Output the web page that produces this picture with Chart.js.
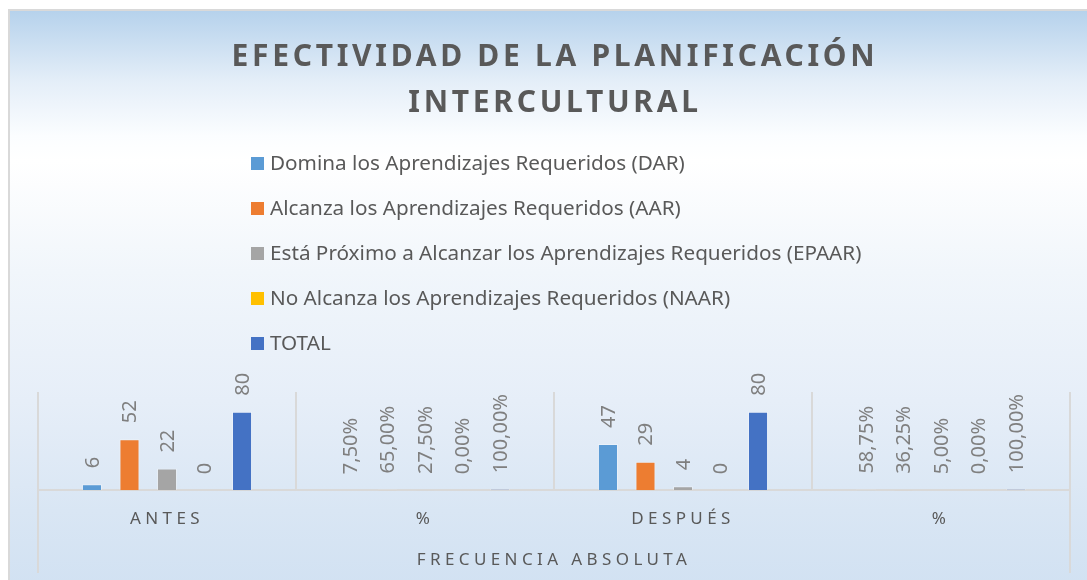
<!DOCTYPE html>
<html>
<head>
<meta charset="utf-8">
<script src="https://cdn.jsdelivr.net/npm/chart.js@4.4.1/dist/chart.umd.min.js"></script>
<style>
  html, body { margin: 0; padding: 0; background: #fff; }
  #wrap { position: relative; width: 1087px; height: 580px; overflow: hidden; }
  #frame {
    position: absolute; left: 8px; top: 9px; width: 1100px; height: 600px;
    border: 2px solid #d9d9d9;
    background: linear-gradient(to bottom, #b6d2ec 0px, #e4eef8 70px, #fbfdff 125px, #ffffff 150px, #f1f6fb 260px, #e6eef8 390px, #d9e6f4 500px, #d1e1f2 580px);
  }
  #chart { position: absolute; left: 0; top: 0; }
</style>
</head>
<body>
<div id="wrap">
  <div id="frame"></div>
  <canvas id="chart" width="1087" height="580"></canvas>
</div>
<script>
// categories on the x axis (outer group label is the axis title)
const categories = ['ANTES', '%', 'DESPUÉS', '%'];
const groupLabel = 'FRECUENCIA ABSOLUTA';
const titleLines = ['EFECTIVIDAD DE LA PLANIFICACIÓN', 'INTERCULTURAL'];

const seriesNames = [
  'Domina los Aprendizajes Requeridos (DAR)',
  'Alcanza los Aprendizajes Requeridos (AAR)',
  'Está Próximo a Alcanzar los Aprendizajes Requeridos (EPAAR)',
  'No Alcanza los Aprendizajes Requeridos (NAAR)',
  'TOTAL'
];
const dar   = [6, 0.075, 47, 0.5875];
const aar   = [52, 0.65, 29, 0.3625];
const epaar = [22, 0.275, 4, 0.05];
const naar  = [0, 0, 0, 0];
const total = [80, 1, 80, 1];
const colors = ['#5B9BD5', '#ED7D31', '#A5A5A5', '#FFC000', '#4472C4'];

const FONT = '"Noto Sans", "Open Sans", sans-serif';

function fmt(v, cat) {
  if (cat === '%') return (v * 100).toFixed(2).replace('.', ',') + '%';
  return String(v);
}

const seriesData = [dar, aar, epaar, naar, total];
const datasets = seriesData.map(function (d, i) {
  return {
    label: seriesNames[i],
    data: d,
    backgroundColor: colors[i],
    borderColor: 'rgba(255,255,255,0.35)',
    borderWidth: 1,
    categoryPercentage: 0.727,
    barPercentage: 0.535
  };
});

// letter spacing for the axis texts
const spacing = {
  id: 'spacing',
  beforeDraw: function (chart) { chart.ctx.letterSpacing = '4.4px'; },
  beforeDatasetsDraw: function (chart) { chart.ctx.letterSpacing = '0px'; }
};

// title, legend, extended outer lines
const decor = {
  id: 'decor',
  afterDraw: function (chart) {
    const ctx = chart.ctx;
    const area = chart.chartArea;
    ctx.save();
    ctx.letterSpacing = '3.7px';
    ctx.fillStyle = '#595959';
    ctx.font = 'bold 30px ' + FONT;
    ctx.textAlign = 'center';
    ctx.textBaseline = 'middle';
    ctx.fillText(titleLines[0], 555, 57);
    ctx.fillText(titleLines[1], 555, 103);

    ctx.letterSpacing = '0px';
    ctx.textAlign = 'left';
    ctx.font = '20.7px ' + FONT;
    chart.data.datasets.forEach(function (ds, i) {
      const y = 164 + i * 45;
      ctx.fillStyle = ds.backgroundColor;
      ctx.fillRect(251, y - 7, 13, 13);
      ctx.fillStyle = '#595959';
      ctx.fillText(ds.label, 270, y);
    });

    ctx.strokeStyle = '#d9d9d9';
    ctx.lineWidth = 2;
    ctx.beginPath();
    ctx.moveTo(area.left, area.bottom);
    ctx.lineTo(area.left, 573);
    ctx.moveTo(area.right, area.bottom);
    ctx.lineTo(area.right, 573);
    ctx.stroke();
    ctx.restore();
  }
};

// rotated value labels above the bars
const valueLabels = {
  id: 'valueLabels',
  afterDatasetsDraw: function (chart) {
    const ctx = chart.ctx;
    ctx.save();
    ctx.letterSpacing = '0px';
    ctx.font = '20px ' + FONT;
    ctx.fillStyle = '#7f7f7f';
    ctx.textAlign = 'left';
    ctx.textBaseline = 'middle';
    chart.data.datasets.forEach(function (ds, di) {
      const meta = chart.getDatasetMeta(di);
      meta.data.forEach(function (bar, j) {
        const txt = fmt(ds.data[j], chart.data.labels[j]);
        ctx.save();
        ctx.translate(bar.x, bar.y - 16);
        ctx.rotate(-Math.PI / 2);
        ctx.fillText(txt, 0, 1);
        ctx.restore();
      });
    });
    ctx.restore();
  }
};

const ctx = document.getElementById('chart').getContext('2d');
const chart = new Chart(ctx, {
  type: 'bar',
  data: { labels: categories, datasets: datasets },
  options: {
    responsive: false,
    animation: false,
    layout: { padding: { top: 392, left: 38, right: 17, bottom: 0 } },
    plugins: { legend: { display: false }, title: { display: false }, tooltip: { enabled: false } },
    scales: {
      y: { display: false, min: 0, max: 100 },
      x: {
        grid: { color: '#d9d9d9', lineWidth: 2, drawTicks: false, offset: true },
        border: { color: '#d9d9d9', width: 2 },
        ticks: { color: '#595959', font: { family: FONT, size: 17 }, padding: 19 },
        title: {
          display: true, text: groupLabel, color: '#595959',
          font: { family: FONT, size: 17 }, padding: { top: 1, bottom: 10 }
        }
      }
    }
  },
  plugins: [spacing, valueLabels, decor]
});
</script>
</body>
</html>
